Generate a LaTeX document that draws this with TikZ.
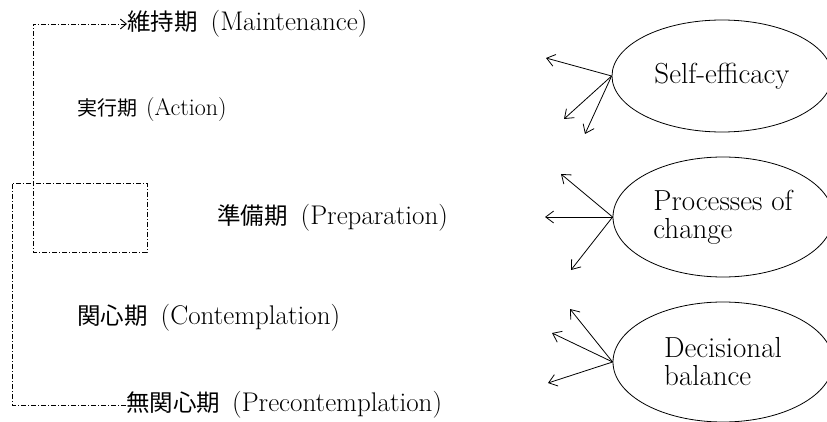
\documentclass[tikz,border=0pt]{standalone}
\usepackage{fontspec}
\newfontfamily\cjk{Noto Sans CJK JP}
\usetikzlibrary{arrows.meta,shapes.geometric}
\newcommand{\jp}[1]{{\fontsize{23.5}{28}\cjk #1}}
\newcommand{\jps}[1]{{\fontsize{20}{24}\cjk #1}}
\begin{document}
\begin{tikzpicture}[x=1pt,y=-1pt,
  stage/.style={anchor=west,inner sep=0pt,font=\fontsize{27}{30}\selectfont},
  small stage/.style={stage,font=\fontsize{24}{28}\selectfont},
  factor/.style={draw,ellipse,line width=0.8pt,minimum width=220pt,inner sep=0pt,align=left,font=\fontsize{29}{28}\selectfont},
  spiral/.style={line width=0.9pt,dash pattern=on 5pt off 2pt on 1pt off 2pt},
  out arrow/.style={line width=0.8pt,-{Straight Barb[length=8pt,width=12pt]}}]
\useasboundingbox (0,0) rectangle (827,422);

% stage labels
\node[stage] (main) at (127,24) {\jp{維持期}\hspace{13pt}(Maintenance)};
\node[small stage] (act) at (77,110) {\jps{実行期}\hspace{9pt}(Action)};
\node[stage] (prep) at (217,218) {\jp{準備期}\hspace{13pt}(Preparation)};
\node[stage] (cont) at (77,318) {\jp{関心期}\hspace{13pt}(Contemplation)};
\node[stage] (pre) at (126,405) {\jp{無関心期}\hspace{12pt}(Precontemplation)};

% spiral path
\coordinate (c1) at (12,405);
\coordinate (c2) at (12,183);
\coordinate (c3) at (147,183);
\coordinate (c4) at (147,252);
\coordinate (c5) at (33,252);
\coordinate (c6) at (33,24);
\draw[spiral,-{Straight Barb[length=6pt,width=10pt]}]
  (pre.west) -- (c1) -- (c2) -- (c3) -- (c4) -- (c5) -- (c6) -- (main.west);

% factors
\node[factor,minimum height=112pt] (se) at (722,76) {Self-efficacy};
\node[factor,minimum height=120pt] (pc) at (723,217) {Processes of\\change};
\node[factor,minimum height=120pt] (db) at (723,362) {Decisional\\balance};

\coordinate (se1) at (546,58);
\coordinate (se2) at (564,119);
\coordinate (se3) at (585,134);
\coordinate (pc1) at (561,174);
\coordinate (pc2) at (545,217);
\coordinate (pc3) at (571,270);
\coordinate (db1) at (570,309);
\coordinate (db2) at (552,333);
\coordinate (db3) at (548,383);

\foreach \t in {se1,se2,se3} \draw[out arrow] (se.west) -- (\t);
\foreach \t in {pc1,pc2,pc3} \draw[out arrow] (pc.west) -- (\t);
\foreach \t in {db1,db2,db3} \draw[out arrow] (db.west) -- (\t);
\end{tikzpicture}
\end{document}
